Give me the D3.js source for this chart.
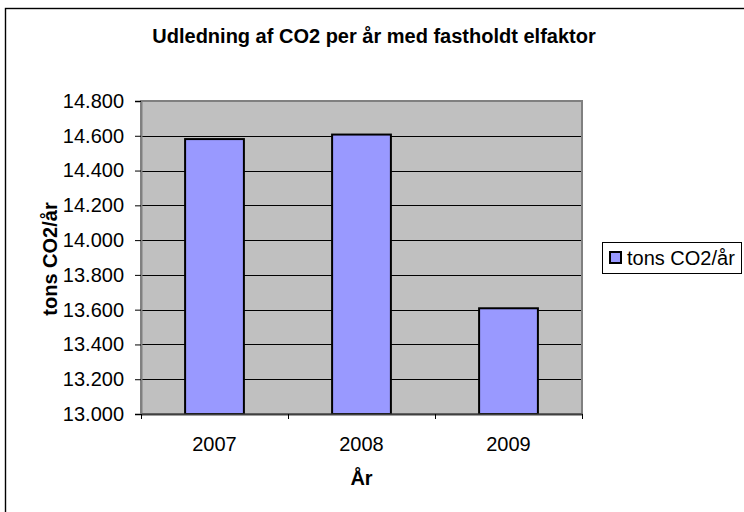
<!DOCTYPE html>
<html>
<head>
<meta charset="utf-8">
<script src="https://cdn.jsdelivr.net/npm/d3@7"></script>
<style>
  html, body { margin: 0; padding: 0; background: #fff; }
  svg { display: block; font-family: "Liberation Sans", Arial, sans-serif; }
</style>
</head>
<body>
<svg id="chart" width="744" height="512"></svg>
<script>
const categories = ["2007", "2008", "2009"];
const values = [14581, 14607, 13608];
const seriesName = "tons CO2/år";
const yTicks = [13000, 13200, 13400, 13600, 13800, 14000, 14200, 14400, 14600, 14800];
const titleText = "Udledning af CO2 per år med fastholdt elfaktor";
const xTitle = "År";
const yTitle = "tons CO2/år";

const svg = d3.select("#chart");
const W = 744, H = 512;
const plot = { left: 141, top: 101, right: 582, bottom: 414 };

const locale = d3.formatLocale({ decimal: ",", thousands: ".", grouping: [3], currency: ["", " kr"] });
const fmt = locale.format(",.0f");

// outer chart border
svg.append("rect")
  .attr("x", 5.5).attr("y", 8.5)
  .attr("width", W + 20).attr("height", H + 20)
  .attr("fill", "#fff").attr("stroke", "#000").attr("stroke-width", 1.4);

const x = d3.scaleBand().domain(categories)
  .range([plot.left, plot.right]).paddingInner(0.6).paddingOuter(0.3);
const xb = d3.scaleLinear().domain([0, categories.length]).range([plot.left, plot.right]);
const y = d3.scaleLinear().domain([yTicks[0], yTicks[yTicks.length - 1]]).range([plot.bottom, plot.top]);

// plot area
svg.append("rect")
  .attr("x", plot.left).attr("y", plot.top)
  .attr("width", plot.right - plot.left).attr("height", plot.bottom - plot.top)
  .attr("fill", "#C0C0C0");

// gridlines
svg.append("g").selectAll("line")
  .data(yTicks.slice(1, -1))
  .join("line")
  .attr("x1", plot.left).attr("x2", plot.right)
  .attr("y1", d => Math.round(y(d)) + 0.5).attr("y2", d => Math.round(y(d)) + 0.5)
  .attr("stroke", "#000").attr("stroke-width", 1);

// plot border
svg.append("rect")
  .attr("x", plot.left).attr("y", plot.top)
  .attr("width", plot.right - plot.left).attr("height", plot.bottom - plot.top)
  .attr("fill", "none").attr("stroke", "#808080").attr("stroke-width", 2);

// bars
svg.append("g").selectAll("rect")
  .data(values)
  .join("rect")
  .attr("x", (d, i) => x(categories[i]))
  .attr("width", x.bandwidth())
  .attr("y", d => y(d))
  .attr("height", d => plot.bottom - y(d))
  .attr("fill", "#9999FF")
  .attr("stroke", "#000").attr("stroke-width", 2);

// y axis
const yAxis = svg.append("g")
  .attr("transform", `translate(${plot.left},0)`)
  .call(d3.axisLeft(y).tickValues(yTicks).tickFormat(fmt).tickSize(6).tickPadding(11));
yAxis.select(".domain").attr("stroke", "#808080").attr("stroke-width", 2);
yAxis.selectAll(".tick line").attr("stroke", "#000");
yAxis.selectAll("text").attr("font-size", 20).attr("fill", "#000")
  .attr("font-family", "Liberation Sans, Arial, sans-serif");

// x axis boundary ticks
const xAxisTicks = svg.append("g")
  .attr("transform", `translate(0,${plot.bottom})`)
  .call(d3.axisBottom(xb).tickValues(d3.range(categories.length + 1)).tickFormat("").tickSize(5).tickSizeOuter(0));
xAxisTicks.select(".domain").attr("stroke", "#404040").attr("stroke-width", 2);
xAxisTicks.selectAll(".tick line").attr("stroke", "#000");

// x axis labels
const xAxisLabels = svg.append("g")
  .attr("transform", `translate(0,${plot.bottom})`)
  .call(d3.axisBottom(x).tickSize(0).tickPadding(23));
xAxisLabels.select(".domain").remove();
xAxisLabels.selectAll("text").attr("font-size", 20).attr("fill", "#000")
  .attr("font-family", "Liberation Sans, Arial, sans-serif");

// title
svg.append("text")
  .attr("x", 374).attr("y", 43)
  .attr("text-anchor", "middle")
  .attr("font-size", 20).attr("font-weight", "bold")
  .text(titleText);

// x title
svg.append("text")
  .attr("x", (plot.left + plot.right) / 2).attr("y", 485)
  .attr("text-anchor", "middle")
  .attr("font-size", 20).attr("font-weight", "bold")
  .text(xTitle);

// y title
svg.append("text")
  .attr("transform", `translate(57,259) rotate(-90)`)
  .attr("text-anchor", "middle")
  .attr("font-size", 20).attr("font-weight", "bold")
  .text(yTitle);

// legend
const lg = svg.append("g");
lg.append("rect")
  .attr("x", 602.5).attr("y", 242.5).attr("width", 139).attr("height", 31)
  .attr("fill", "#fff").attr("stroke", "#000").attr("stroke-width", 1);
lg.append("rect")
  .attr("x", 610).attr("y", 252).attr("width", 11).attr("height", 11)
  .attr("fill", "#9999FF").attr("stroke", "#000").attr("stroke-width", 2);
lg.append("text")
  .attr("x", 627).attr("y", 265)
  .attr("font-size", 20)
  .text(seriesName);
</script>
</body>
</html>
